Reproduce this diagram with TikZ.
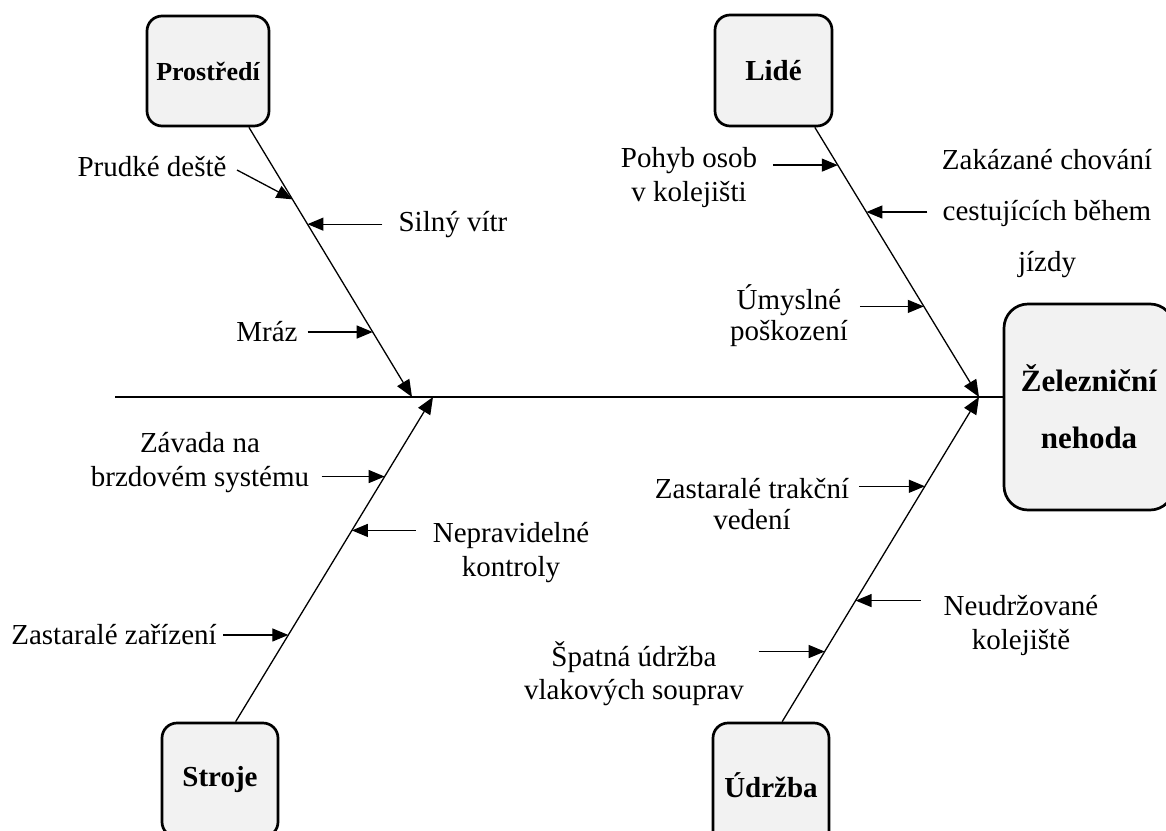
\documentclass[tikz,border=0pt]{standalone}
\usepackage{fontspec}
\setmainfont{Liberation Serif}
\usetikzlibrary{arrows.meta,calc}
\definecolor{boxgray}{HTML}{F2F2F2}
\begin{document}
\begin{tikzpicture}[x=1pt,y=-1pt,
  catbox/.style={draw, line width=2.7pt, fill=boxgray, rounded corners=15pt,
    inner sep=0pt, font=\bfseries\fontsize{29}{33}\selectfont},
  lbl/.style={inner sep=0pt, align=center, font=\fontsize{29}{34}\selectfont},
  bone/.style={line width=1.3pt, -{Triangle[length=17pt,width=14pt]}},
  subarr/.style={line width=1.3pt, -{Triangle[length=16pt,width=13pt]}},
  spine/.style={line width=1.8pt}]
\useasboundingbox (0,0) rectangle (1166,830);

% category boxes
\node[catbox, minimum width=122pt, minimum height=110pt,
  font=\bfseries\fontsize{26}{30}\selectfont] (prost) at (208,71) {Prostředí};
\node[catbox, minimum width=117pt, minimum height=111pt] (lide) at (773.5,70.5) {Lidé};
\node[catbox, minimum width=116pt, minimum height=114pt] (stroje) at (220,780) {Stroje};
\node[catbox, minimum width=116pt, minimum height=124pt] (udrzba) at (771,785) {Údržba};
\node[catbox, rounded corners=24pt, minimum width=170pt, minimum height=206pt, align=center,
  font=\bfseries\fontsize{31}{57}\selectfont] (main) at (1089,407) {Železniční\\nehoda};

% spine
\coordinate (spL) at (115,397);
\draw[spine] (spL) -- (spL -| main.west);

% bone ends
\coordinate (tP) at (412,397);
\coordinate (tS) at (433,397);
\coordinate (tL) at (979,397);
\coordinate (tU) at (979,397);
\coordinate (bP) at (prost.-54.7);
\coordinate (bL) at (lide.-54.6);
\coordinate (bS) at (stroje.75.3);
\coordinate (bU) at (udrzba.80.8);

\draw[bone] (bP) -- (tP);
\draw[bone] (bL) -- (tL);
\draw[bone] (bS) -- (tS);
\draw[bone] (bU) -- (tU);

% points on bones
\coordinate (p1) at ($(bP)!0.267!(tP)$);
\coordinate (p2) at ($(bP)!0.359!(tP)$);
\coordinate (p3) at ($(bP)!0.759!(tP)$);
\coordinate (l1) at ($(bL)!0.140!(tL)$);
\coordinate (l2) at ($(bL)!0.314!(tL)$);
\coordinate (l3) at ($(bL)!0.664!(tL)$);
\coordinate (s1) at ($(bS)!0.755!(tS)$);
\coordinate (s2) at ($(bS)!0.589!(tS)$);
\coordinate (s3) at ($(bS)!0.267!(tS)$);
\coordinate (u1) at ($(bU)!0.725!(tU)$);
\coordinate (u2) at ($(bU)!0.373!(tU)$);
\coordinate (u3) at ($(bU)!0.216!(tU)$);

% arrow starts
\coordinate (p1s) at (237,170);
\coordinate (p2s) at ($(p2)+(75,0)$);
\coordinate (p3s) at ($(p3)+(-65,0)$);
\coordinate (l1s) at ($(l1)+(-65,0)$);
\coordinate (l2s) at ($(l2)+(61,0)$);
\coordinate (l3s) at ($(l3)+(-64,0)$);
\coordinate (s1s) at ($(s1)+(-63,0)$);
\coordinate (s2s) at ($(s2)+(64,0)$);
\coordinate (s3s) at ($(s3)+(-65,0)$);
\coordinate (u1s) at ($(u1)+(-66,0)$);
\coordinate (u2s) at ($(u2)+(65,0)$);
\coordinate (u3s) at ($(u3)+(-66,0)$);

\foreach \c in {p1,p2,p3,l1,l2,l3,s1,s2,s3,u1,u2,u3}
  \draw[subarr] (\c s) -- (\c);

% cause labels
\node[lbl] (tprudke) at (152,167) {Prudké deště};
\node[lbl] (tsilny) at (453,225) {Silný vítr};
\node[lbl] (tmraz) at (267,332) {Mráz};
\node[lbl] (tpohyb) at (689,178) {Pohyb osob\\v kolejišti};
\node[lbl, font=\fontsize{29}{51}\selectfont] (tzakaz) at (1047,214) {Zakázané chování\\cestujících během\\jízdy};
\node[lbl, font=\fontsize{29}{31}\selectfont] (tumysl) at (789,316) {Úmyslné\\poškození};
\node[lbl] (tzavada) at (200,463) {Závada na\\brzdovém systému};
\node[lbl] (tneprav) at (511,553) {Nepravidelné\\kontroly};
\node[lbl] (tzastz) at (114,635) {Zastaralé zařízení};
\node[lbl, font=\fontsize{29}{31}\selectfont] (ttrakc) at (752,504) {Zastaralé trakční\\vedení};
\node[lbl] (tneudr) at (1021,625) {Neudržované\\kolejiště};
\node[lbl, font=\fontsize{29}{33}\selectfont] (tspatna) at (634,674) {Špatná údržba\\vlakových souprav};
\end{tikzpicture}
\end{document}
